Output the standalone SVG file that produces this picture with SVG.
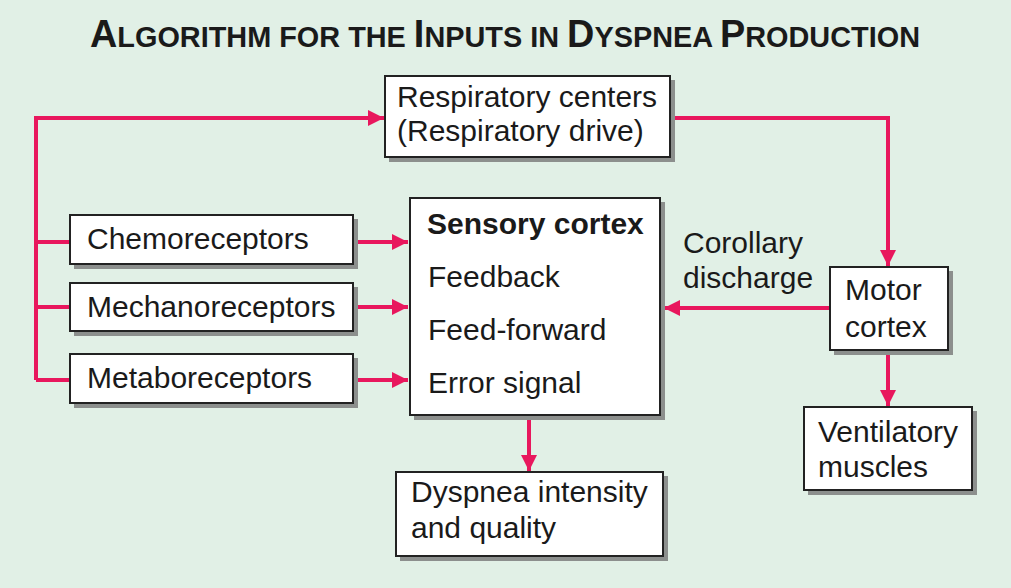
<svg xmlns="http://www.w3.org/2000/svg" width="1011" height="588" viewBox="0 0 1011 588">
<style>
.bg{fill:#e1f0e6}
.box{fill:#fff;stroke:#222;stroke-width:2}
.sh{fill:#8c8f8d}
.t{font-family:"Liberation Sans",Arial,sans-serif;font-size:30px;fill:#1a1a1a}
.b{font-weight:bold}
.ln{fill:none;stroke:#e8175d;stroke-width:4}
.ti{font-family:"Liberation Sans",Arial,sans-serif;font-weight:bold;fill:#1a1a1a}
</style>
<defs>
<marker id="ah" viewBox="0 0 10 10" refX="10" refY="5" markerWidth="5" markerHeight="4" markerUnits="strokeWidth" orient="auto">
<path d="M0,0 L10,5 L0,10 z" fill="#e8175d"/>
</marker>
</defs>
<rect class="bg" x="0" y="0" width="1011" height="588"/>
<text class="ti" x="90" y="47" textLength="830" lengthAdjust="spacingAndGlyphs"><tspan font-size="38">A</tspan><tspan font-size="29">LGORITHM FOR THE </tspan><tspan font-size="38">I</tspan><tspan font-size="29">NPUTS IN </tspan><tspan font-size="38">D</tspan><tspan font-size="29">YSPNEA </tspan><tspan font-size="38">P</tspan><tspan font-size="29">RODUCTION</tspan></text>
<g id="connectors">
<path class="ln" d="M36,380 L36,118 L384,118" marker-end="url(#ah)"/>
<path class="ln" d="M36,242 L70,242"/>
<path class="ln" d="M36,307 L70,307"/>
<path class="ln" d="M36,380 L70,380"/>
<path class="ln" d="M354,242 L408,242" marker-end="url(#ah)"/>
<path class="ln" d="M354,307 L408,307" marker-end="url(#ah)"/>
<path class="ln" d="M354,380 L408,380" marker-end="url(#ah)"/>
<path class="ln" d="M671,118 L888,118 L888,266" marker-end="url(#ah)"/>
<path class="ln" d="M830,308 L664,308" marker-end="url(#ah)"/>
<path class="ln" d="M888,351 L888,406" marker-end="url(#ah)"/>
<path class="ln" d="M529,416 L529,471" marker-end="url(#ah)"/>
</g>
<g id="resp">
<rect class="sh" x="389" y="80" width="286" height="82"/>
<rect class="box" x="385" y="76" width="285" height="81"/>
<text class="t" x="397" y="107">Respiratory centers</text>
<text class="t" x="397" y="141">(Respiratory drive)</text>
</g>
<g id="chemo">
<rect class="sh" x="74" y="219" width="284" height="50"/>
<rect class="box" x="70" y="215" width="283" height="49"/>
<text class="t" x="87" y="249">Chemoreceptors</text>
</g>
<g id="mech">
<rect class="sh" x="74" y="287" width="284" height="49"/>
<rect class="box" x="70" y="283" width="283" height="48"/>
<text class="t" x="87" y="317">Mechanoreceptors</text>
</g>
<g id="meta">
<rect class="sh" x="74" y="358" width="284" height="50"/>
<rect class="box" x="70" y="354" width="283" height="49"/>
<text class="t" x="87" y="388">Metaboreceptors</text>
</g>
<g id="sensory">
<rect class="sh" x="414" y="202" width="251" height="218"/>
<rect class="box" x="410" y="198" width="250" height="217"/>
<text class="t b" x="427" y="234">Sensory cortex</text>
<text class="t" x="428" y="287">Feedback</text>
<text class="t" x="428" y="340">Feed-forward</text>
<text class="t" x="428" y="393">Error signal</text>
</g>
<g id="corollary">
<text class="t" x="683" y="253">Corollary</text>
<text class="t" x="683" y="288">discharge</text>
</g>
<g id="motor">
<rect class="sh" x="834" y="271" width="119" height="84"/>
<rect class="box" x="830" y="267" width="118" height="83"/>
<text class="t" x="845" y="300">Motor</text>
<text class="t" x="845" y="337">cortex</text>
</g>
<g id="vent">
<rect class="sh" x="808" y="411" width="169" height="84"/>
<rect class="box" x="804" y="407" width="168" height="83"/>
<text class="t" x="818" y="442">Ventilatory</text>
<text class="t" x="818" y="477">muscles</text>
</g>
<g id="dyspnea">
<rect class="sh" x="400" y="476" width="268" height="85"/>
<rect class="box" x="396" y="472" width="267" height="84"/>
<text class="t" x="411" y="502">Dyspnea intensity</text>
<text class="t" x="411" y="538">and quality</text>
</g>
</svg>
